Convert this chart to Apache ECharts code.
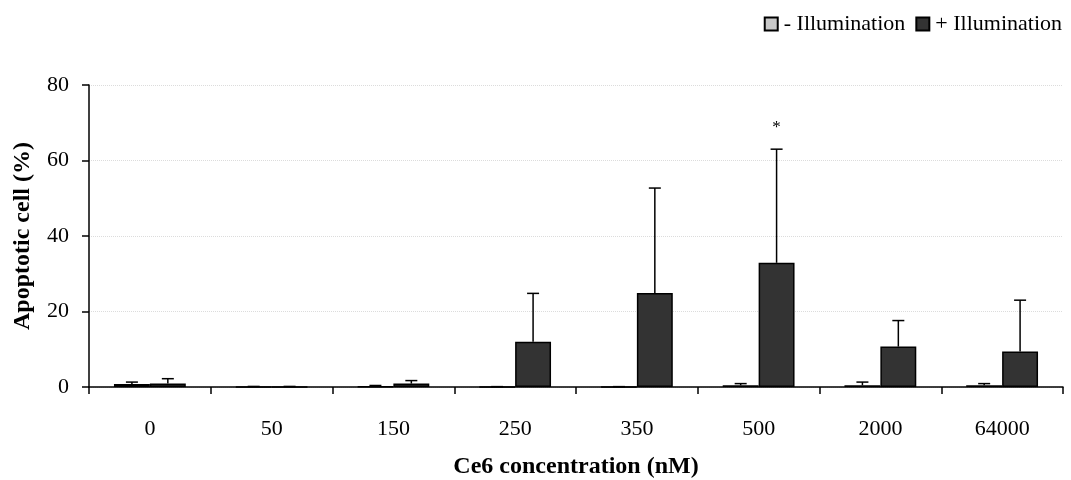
<!DOCTYPE html>
<html>
<head>
<meta charset="utf-8">
<script src="https://cdn.jsdelivr.net/npm/echarts@6/dist/echarts.min.js"></script>
<style>
  html, body { margin: 0; padding: 0; background: #fff; }
  #chart { width: 1071px; height: 480px; }
</style>
</head>
<body>
<div id="chart"></div>
<script>
// Apoptosis after Ce6 treatment, with and without illumination (mean + SD)
const categories = ['0', '50', '150', '250', '350', '500', '2000', '64000'];
const darkMean = [0.8, 0.05, 0.1, 0.05, 0.05, 0.45, 0.45, 0.45];
const darkSD = [0.5, 0.1, 0.3, 0.05, 0.05, 0.45, 0.85, 0.45];
const lightMean = [0.9, 0.05, 0.9, 12.0, 24.9, 32.9, 10.7, 9.4];
const lightSD = [1.3, 0.1, 0.8, 12.8, 27.8, 30.1, 6.9, 13.6];
const significance = ['', '', '', '', '', '*', '', ''];
const yTicks = [0, 20, 40, 60, 80];

const FONT = '"Liberation Serif", "DejaVu Serif", serif';
const CAT_GAP = 0.41;

// Upward-only error bars, positioned over the left (-1) or right (+1) bar of each pair
function errorSeries(name, means, sds, side, marks) {
  return {
    name: name,
    type: 'custom',
    z: 5,
    silent: true,
    data: means.map((m, i) => [i, m, sds[i]]),
    renderItem: function (params, api) {
      const idx = api.value(0);
      const mean = api.value(1);
      const sd = api.value(2);
      const band = api.size([1, 0])[0];
      const offset = side * band * (1 - CAT_GAP) / 4;
      const base = api.coord([idx, mean]);
      const top = api.coord([idx, mean + sd]);
      const x = base[0] + offset;
      const cap = 6;
      const style = { stroke: '#000', lineWidth: 1.5, fill: null };
      const children = [
        { type: 'line', shape: { x1: x, y1: base[1], x2: x, y2: top[1] }, style: style },
        { type: 'line', shape: { x1: x - cap, y1: top[1], x2: x + cap, y2: top[1] }, style: style }
      ];
      const mark = marks ? marks[idx] : '';
      if (mark) {
        children.push({
          type: 'text',
          style: {
            text: mark, x: x, y: top[1] - 22,
            align: 'center', verticalAlign: 'middle',
            font: '17px ' + FONT, fill: '#000'
          }
        });
      }
      return { type: 'group', children: children };
    }
  };
}

const chart = echarts.init(document.getElementById('chart'));
chart.setOption({
  animation: false,
  backgroundColor: '#fff',
  textStyle: { fontFamily: FONT, color: '#000' },
  legend: {
    right: 4,
    top: 8,
    itemWidth: 13,
    itemHeight: 13,
    itemGap: 10,
    icon: 'rect',
    textStyle: { fontFamily: FONT, fontSize: 22, color: '#000', padding: [0, 0, 0, 1] },
    data: ['- Illumination', '+ Illumination']
  },
  grid: { left: 89, right: 8, top: 85, bottom: 93, containLabel: false, outerBoundsMode: 'none' },
  xAxis: {
    type: 'category',
    data: categories,
    boundaryGap: true,
    name: 'Ce6 concentration (nM)',
    nameLocation: 'middle',
    nameGap: 68,
    nameTextStyle: { fontFamily: FONT, fontSize: 24, fontWeight: 'bold', color: '#000' },
    axisLine: { lineStyle: { color: '#000', width: 1.5 } },
    axisTick: { show: true, alignWithLabel: false, length: 7, lineStyle: { color: '#000', width: 1.5 } },
    axisLabel: { fontFamily: FONT, fontSize: 22, color: '#000', margin: 31 },
    splitLine: { show: false }
  },
  yAxis: {
    type: 'value',
    min: yTicks[0],
    max: yTicks[yTicks.length - 1],
    interval: yTicks[1] - yTicks[0],
    name: 'Apoptotic cell (%)',
    nameLocation: 'middle',
    nameGap: 54,
    nameTextStyle: { fontFamily: FONT, fontSize: 24, fontWeight: 'bold', color: '#000' },
    axisLine: { show: true, lineStyle: { color: '#000', width: 1.5 } },
    axisTick: { show: true, length: 7, lineStyle: { color: '#000', width: 1.5 } },
    axisLabel: { fontFamily: FONT, fontSize: 22, color: '#000', margin: 20 },
    splitLine: { show: true, lineStyle: { color: '#dcdcdc', width: 1, type: 'dotted' } }
  },
  series: [
    {
      name: '- Illumination',
      type: 'bar',
      data: darkMean,
      barGap: '0%',
      barCategoryGap: (CAT_GAP * 100) + '%',
      itemStyle: { color: '#c8c8c8', borderColor: '#000', borderWidth: 1.5 }
    },
    {
      name: '+ Illumination',
      type: 'bar',
      data: lightMean,
      barGap: '0%',
      barCategoryGap: (CAT_GAP * 100) + '%',
      itemStyle: { color: '#333333', borderColor: '#000', borderWidth: 1.5 }
    },
    errorSeries('err-dark', darkMean, darkSD, -1, null),
    errorSeries('err-light', lightMean, lightSD, 1, significance)
  ]
});
</script>
</body>
</html>
